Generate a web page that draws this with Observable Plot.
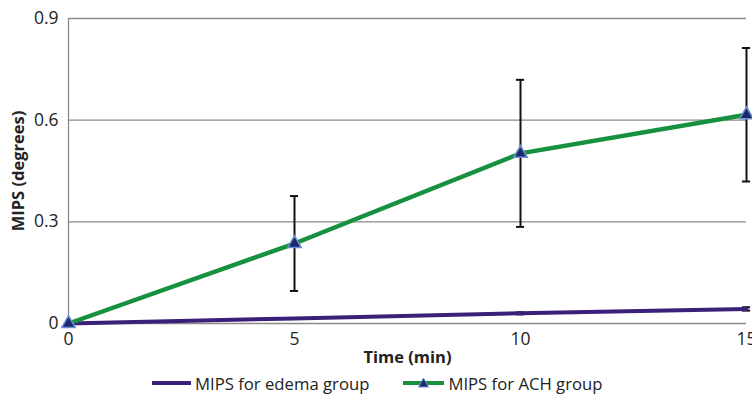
<!DOCTYPE html>
<html><head><meta charset="utf-8">
<script src="https://cdn.jsdelivr.net/npm/d3@7"></script>
<script src="https://cdn.jsdelivr.net/npm/@observablehq/plot@0.6"></script>
<style>
body{margin:0;background:#fff;font-family:"Open Sans",sans-serif;}
#legend{display:flex;align-items:center;height:30px;font-size:16.7px;color:#222;padding-left:152px;}
.item{display:flex;align-items:center;}
</style></head>
<body>
<div id="chart"></div>
<div id="legend"></div>
<script>
const times = [0, 5, 10, 15];
const edema = [0, 0.015, 0.03, 0.043];
const edemaErr = [0, 0, 0.003, 0.005];
const ach = [0, 0.236, 0.502, 0.616];
const achErr = [0, 0.14, 0.217, 0.197];
const yTicks = [0, 0.3, 0.6, 0.9];
const xTicks = [0, 5, 10, 15];
const seriesNames = ["MIPS for edema group", "MIPS for ACH group"];
const colors = ["#3b1f78", "#17913f"];

const edemaData = times.map((t,i)=>({time:t, v:edema[i], e:edemaErr[i]}));
const achData = times.map((t,i)=>({time:t, v:ach[i], e:achErr[i]}));
const errData = [...edemaData.filter(d=>d.e>0), ...achData.filter(d=>d.e>0)];
const cap = 0.09;

const plot = Plot.plot({
  width: 752, height: 368,
  marginLeft: 68, marginRight: 6, marginTop: 18, marginBottom: 45,
  style: {fontFamily: '"Open Sans",sans-serif', fontSize: "17px", color: "#222", background: "#fff"},
  x: {domain: [0, 15]},
  y: {domain: [0, 0.9]},
  marks: [
    Plot.ruleY(yTicks, {stroke: "#8a8a8a", strokeWidth: 1.3}),
    Plot.ruleX([0], {stroke: "#8a8a8a", strokeWidth: 1.3}),
    Plot.axisX(xTicks, {tickSize: 0, tickPadding: 9, label: null, fontSize: 17.5, fill: "#222"}),
    Plot.axisY(yTicks, {tickSize: 0, tickPadding: 10, label: null, fontSize: 17.5, fill: "#222",
      tickFormat: d => d === 0 ? "0" : d3.format(".1f")(d)}),
    Plot.ruleX(errData, {x: "time", y1: d=>d.v-d.e, y2: d=>d.v+d.e, stroke: "#111", strokeWidth: 2}),
    Plot.ruleY(errData, {y: d=>d.v+d.e, x1: d=>d.time-cap, x2: d=>d.time+cap, stroke: "#111", strokeWidth: 2}),
    Plot.ruleY(errData, {y: d=>d.v-d.e, x1: d=>d.time-cap, x2: d=>d.time+cap, stroke: "#111", strokeWidth: 2}),
    Plot.line(edemaData, {x: "time", y: "v", stroke: colors[0], strokeWidth: 4}),
    Plot.line(achData, {x: "time", y: "v", stroke: colors[1], strokeWidth: 4.5}),
    Plot.dot(achData, {x: "time", y: "v", symbol: "triangle", r: 5, fill: "#1c2a6e", stroke: "#6f8fd4", strokeWidth: 1.5}),
    Plot.text(["Time (min)"], {frameAnchor: "bottom", lineAnchor: "middle", dy: 34, fontWeight: "bold", fontSize: 16.5, fill: "#222"}),
    Plot.text(["MIPS (degrees)"], {frameAnchor: "left", textAnchor: "middle", lineAnchor: "middle", dx: -50, rotate: -90, fontWeight: "bold", fontSize: 16.5, fill: "#222"})
  ]
});
document.getElementById("chart").appendChild(plot);

const leg = document.getElementById("legend");
seriesNames.forEach((name,i)=>{
  const it = document.createElement("div"); it.className = "item";
  it.style.marginRight = "34px";
  const sw = i===0
    ? `<svg width="40" height="12"><line x1="0" y1="6" x2="39" y2="6" stroke="${colors[0]}" stroke-width="4"/></svg>`
    : `<svg width="42" height="12"><line x1="0" y1="6" x2="41" y2="6" stroke="${colors[1]}" stroke-width="4"/><path d="M20.5,1 L25.5,10 L15.5,10 Z" fill="#1c2a6e" stroke="#6f8fd4" stroke-width="1"/></svg>`;
  it.innerHTML = sw + `<span style="margin-left:3px">${name}</span>`;
  leg.appendChild(it);
});
</script>
</body></html>
